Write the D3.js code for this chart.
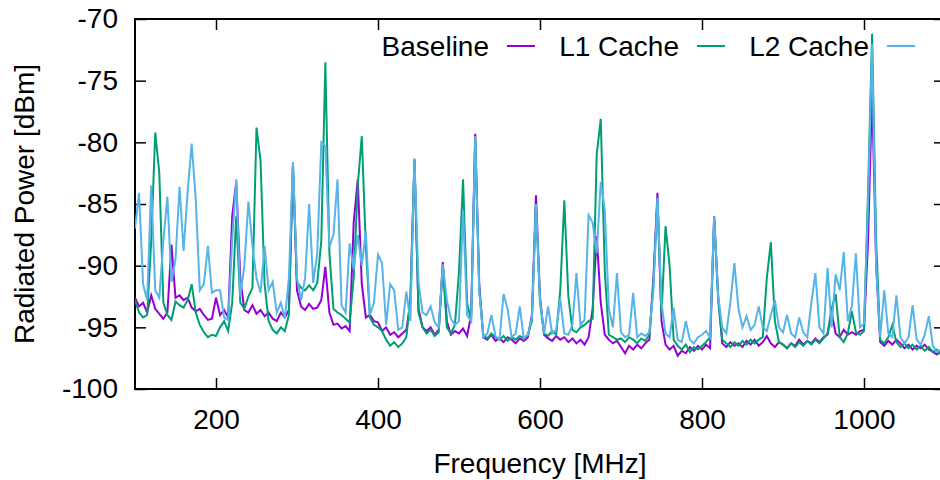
<!DOCTYPE html>
<html>
<head>
<meta charset="utf-8">
<script src="https://cdn.jsdelivr.net/npm/d3@7"></script>
<style>
body { margin: 0; background: #fff; }
text { font-family: "Liberation Sans", Arial, Helvetica, sans-serif; }
</style>
</head>
<body>
<svg id="chart"></svg>
<script>
// spectrum sweep: 100 MHz .. 1100 MHz, one reading every 5 MHz
let startFreq = 100
let stepFreq = 5

let seriesNames = ['Baseline', 'L1 Cache', 'L2 Cache']
let seriesColors = ['#9400d3', '#009e73', '#56b4e9']

let baseline = [
  -92.6, -93.3, -93.0, -93.8, -92.4, -93.5, -93.9, -94.3, -93.8, -88.3, -92.6, -92.4, -92.8, -92.6, -93.4, -93.7, -93.5, -94.0, -94.4, -94.3,
  -92.6, -94.0, -93.6, -94.2, -86.0, -83.2, -91.0, -93.6, -93.8, -93.2, -93.9, -93.6, -94.1, -93.8, -94.3, -94.5, -93.8, -94.2, -93.6, -81.8,
  -92.0, -93.3, -93.6, -93.1, -93.5, -93.4, -92.8, -90.1, -93.8, -94.8, -94.7, -95.1, -94.9, -95.3, -86.5, -83.0, -91.5, -94.2, -94.0, -94.5,
  -94.6, -95.3, -95.0, -95.6, -95.4, -95.8, -95.5, -95.2, -93.0, -81.4, -93.5, -95.0, -95.3, -95.0, -95.6, -95.2, -89.7, -94.5, -95.6, -95.3,
  -95.5, -95.1, -95.7, -94.0, -79.3, -91.5, -95.8, -96.0, -95.6, -96.1, -95.9, -96.2, -95.8, -96.0, -96.3, -95.9, -96.1, -95.8, -94.0, -84.3,
  -92.5, -95.6, -95.9, -96.1, -95.7, -96.0, -95.8, -96.2, -95.9, -96.3, -96.0, -96.4, -95.8, -93.5, -87.6, -93.0, -95.6, -96.0, -96.3, -96.1,
  -96.6, -97.1, -96.5, -96.8, -96.4, -96.7, -96.3, -96.0, -91.0, -84.1, -94.5, -96.4, -96.8, -96.5, -97.3, -96.9, -97.1, -96.6, -96.9, -96.5,
  -96.8, -96.4, -96.7, -86.0, -92.5, -96.3, -96.6, -96.2, -96.5, -96.3, -96.6, -96.1, -96.4, -96.0, -96.5, -96.2, -95.7, -96.3, -96.6, -96.2,
  -96.4, -96.7, -96.3, -96.5, -96.0, -96.4, -96.1, -96.3, -95.9, -96.2, -95.8, -95.6, -93.8, -95.5, -95.8, -95.2, -95.6, -95.4, -95.6, -95.3,
  -95.2, -88.0, -75.8, -90.0, -96.2, -96.5, -96.1, -96.4, -96.0, -96.3, -96.7, -96.4, -96.8, -96.5, -96.7, -96.4, -96.8, -97.0, -97.2, -96.9,
  -97.0
]

let l1Cache = [
  -92.8, -93.8, -94.2, -94.0, -88.0, -79.2, -82.5, -93.0, -94.0, -94.4, -92.9, -93.2, -93.4, -92.8, -91.5, -93.8, -94.8, -95.4, -95.8, -95.6,
  -95.7, -95.0, -94.5, -95.3, -93.0, -86.0, -93.0, -93.5, -92.5, -91.8, -78.8, -81.5, -91.5, -94.5, -95.2, -95.5, -95.0, -95.3, -94.0, -81.8,
  -91.3, -91.8, -92.0, -91.6, -92.0, -91.4, -88.0, -73.5, -89.0, -93.5, -93.8, -94.0, -94.3, -94.6, -91.0, -83.5, -79.5, -88.5, -94.2, -94.8,
  -95.0, -95.3, -96.0, -96.5, -96.2, -96.6, -96.3, -95.8, -92.7, -81.5, -93.8, -95.0, -95.5, -95.2, -95.7, -95.4, -90.0, -95.0, -95.5, -94.8,
  -90.5, -83.0, -93.0, -94.5, -79.6, -92.0, -95.6, -95.9, -95.5, -95.8, -96.0, -95.7, -96.1, -95.8, -96.0, -95.7, -95.9, -95.6, -94.5, -85.0,
  -93.0, -95.5, -95.7, -95.3, -95.6, -92.0, -84.7, -92.5, -95.2, -95.4, -95.0, -94.8, -94.5, -94.3, -81.0, -78.1, -90.5, -95.6, -95.8, -96.0,
  -95.9, -96.2, -95.8, -96.0, -96.3, -95.9, -96.1, -95.6, -91.5, -84.6, -94.0, -86.8, -90.0, -96.0, -96.5, -96.8, -96.4, -97.0, -96.6, -96.8,
  -96.5, -96.2, -95.8, -86.2, -92.8, -96.0, -96.3, -96.6, -96.2, -96.5, -96.1, -96.4, -96.0, -96.3, -96.0, -95.8, -91.0, -88.1, -94.5, -96.2,
  -96.4, -96.7, -96.3, -96.6, -96.2, -96.5, -96.1, -96.4, -96.0, -96.3, -95.9, -95.5, -93.5, -92.3, -95.8, -96.2, -95.5, -93.7, -95.4, -95.6,
  -95.3, -84.0, -71.2, -88.0, -96.0, -96.3, -95.8, -94.8, -96.2, -96.6, -96.3, -96.7, -96.4, -96.8, -96.5, -96.9, -96.6, -97.0, -96.8, -97.2,
  -97.1
]

let l2Cache = [
  -87.0, -84.1, -91.5, -92.8, -83.5, -92.0, -92.6, -88.0, -84.4, -91.3, -89.5, -83.6, -88.8, -84.0, -80.1, -84.6, -92.0, -91.5, -88.4, -92.2,
  -92.0, -92.0, -94.2, -94.4, -88.0, -83.0, -92.5, -90.0, -84.8, -88.4, -91.0, -92.2, -88.4, -92.0, -91.3, -93.8, -93.0, -94.3, -91.0, -81.6,
  -91.0, -92.8, -91.0, -85.0, -91.4, -89.0, -80.0, -80.3, -88.5, -87.5, -83.0, -93.2, -93.8, -88.2, -90.3, -87.5, -90.0, -87.2, -94.0, -93.0,
  -89.1, -89.8, -94.8, -91.5, -92.0, -95.2, -95.0, -92.1, -94.5, -81.3, -91.3, -93.8, -94.0, -93.3, -94.6, -95.0, -89.9, -92.8, -94.3, -94.8,
  -94.5, -85.5, -94.0, -94.5, -79.5, -92.0, -95.8, -95.5, -94.0, -95.7, -96.0, -92.3, -93.5, -95.8, -95.5, -93.3, -95.9, -95.6, -94.2, -85.0,
  -92.8, -95.5, -93.3, -95.5, -95.2, -92.7, -95.5, -95.6, -94.8, -90.6, -94.8, -94.4, -85.9, -86.5, -89.0, -83.2, -85.5, -93.5, -95.0, -90.6,
  -95.4, -95.8, -95.6, -92.2, -95.8, -95.5, -95.7, -95.4, -92.0, -84.5, -93.0, -95.5, -95.8, -93.4, -96.0, -96.2, -94.5, -96.0, -96.3, -95.8,
  -95.6, -95.3, -95.8, -86.0, -92.5, -95.0, -95.5, -93.0, -89.8, -93.5, -95.0, -94.1, -95.2, -94.8, -93.3, -95.0, -95.3, -94.0, -92.8, -95.0,
  -95.4, -94.0, -95.5, -95.8, -94.2, -95.4, -95.8, -93.0, -90.6, -95.0, -95.5, -90.2, -95.0, -90.7, -92.0, -88.9, -94.5, -93.3, -89.0, -95.0,
  -94.7, -85.0, -72.0, -90.0, -95.8, -92.0, -95.5, -95.8, -92.4, -95.8, -96.3, -95.8, -93.2, -96.0, -96.4, -95.6, -94.1, -96.5, -97.0, -96.8,
  -97.0
]

let xTicks = [200, 400, 600, 800, 1000]
let yTicks = [-100, -95, -90, -85, -80, -75, -70]

let width = 940
let height = 480
let margin = {left: 135, right: -5, top: 19, bottom: 91}
let fontSize = 28

let svg = d3.select('#chart').attr('width', width).attr('height', height)

let freqs = baseline.map((d, i) => startFreq + i * stepFreq)
let allSeries = [baseline, l1Cache, l2Cache]

let xScale = d3.scaleLinear()
  .domain([100, 1100])
  .range([margin.left, width - margin.right])

let yScale = d3.scaleLinear()
  .domain([-100, -70])
  .range([height - margin.bottom, margin.top])

// plain ascii labels, no thousands separator
let plainFormat = d => String(d)

let styleAxis = (g, showLabels) => {
  g.select('.domain').remove()
  g.selectAll('.tick line').attr('stroke', '#000').attr('stroke-width', 1.5)
  g.selectAll('.tick text')
    .attr('fill', '#000')
    .style('font-size', fontSize + 'px')
    .style('font-family', '"Liberation Sans", Arial, Helvetica, sans-serif')
  if (!showLabels) g.selectAll('.tick text').remove()
}

// axes, ticks pointing inward on all four sides
svg.append('g')
  .attr('transform', 'translate(0,' + yScale(-100) + ')')
  .call(d3.axisBottom(xScale).tickValues(xTicks).tickFormat(plainFormat).tickSizeInner(-11).tickSizeOuter(0).tickPadding(20))
  .call(g => styleAxis(g, true))

svg.append('g')
  .attr('transform', 'translate(0,' + yScale(-70) + ')')
  .call(d3.axisTop(xScale).tickValues(xTicks).tickSizeInner(-11).tickSizeOuter(0))
  .call(g => styleAxis(g, false))

svg.append('g')
  .attr('transform', 'translate(' + xScale(100) + ',0)')
  .call(d3.axisLeft(yScale).tickValues(yTicks).tickFormat(plainFormat).tickSizeInner(-11).tickSizeOuter(0).tickPadding(17))
  .call(g => styleAxis(g, true))

svg.append('g')
  .attr('transform', 'translate(' + xScale(1100) + ',0)')
  .call(d3.axisRight(yScale).tickValues(yTicks).tickSizeInner(-11).tickSizeOuter(0))
  .call(g => styleAxis(g, false))

svg.append('rect')
  .attr('x', xScale(100))
  .attr('y', yScale(-70))
  .attr('width', xScale(1100) - xScale(100))
  .attr('height', yScale(-100) - yScale(-70))
  .attr('fill', 'none')
  .attr('stroke', '#000')
  .attr('stroke-width', 2)

// axis titles
svg.append('text')
  .attr('x', (xScale(100) + xScale(1100)) / 2)
  .attr('y', 473)
  .attr('text-anchor', 'middle')
  .style('font-size', fontSize + 'px')
  .text('Frequency [MHz]')

svg.append('text')
  .attr('transform', 'translate(34,' + (yScale(-70) + yScale(-100)) / 2 + ') rotate(-90)')
  .attr('text-anchor', 'middle')
  .style('font-size', fontSize + 'px')
  .text('Radiated Power [dBm]')

// key: title then sample line, in one row at the top
let keyTextEnd = 489
let keyStep = 190
let keyY = 46
seriesNames.forEach((name, i) => {
  let xEnd = keyTextEnd + i * keyStep
  svg.append('text')
    .attr('x', xEnd)
    .attr('y', keyY)
    .attr('dy', '0.36em')
    .attr('text-anchor', 'end')
    .style('font-size', fontSize + 'px')
    .text(name)
  svg.append('line')
    .attr('x1', xEnd + 18)
    .attr('x2', xEnd + 46)
    .attr('y1', keyY)
    .attr('y2', keyY)
    .attr('stroke', seriesColors[i])
    .attr('stroke-width', 2)
})

svg.append('clipPath').attr('id', 'plot-clip')
  .append('rect')
  .attr('x', xScale(100))
  .attr('y', yScale(-70))
  .attr('width', xScale(1100) - xScale(100))
  .attr('height', yScale(-100) - yScale(-70))

let line = d3.line()
  .x((d, i) => xScale(freqs[i]))
  .y(d => yScale(d))

svg.append('g')
  .attr('clip-path', 'url(#plot-clip)')
  .selectAll('path')
  .data(allSeries)
  .enter()
  .append('path')
  .attr('d', d => line(d))
  .attr('fill', 'none')
  .attr('stroke', (d, i) => seriesColors[i])
  .attr('stroke-width', 2)
</script>
</body>
</html>
